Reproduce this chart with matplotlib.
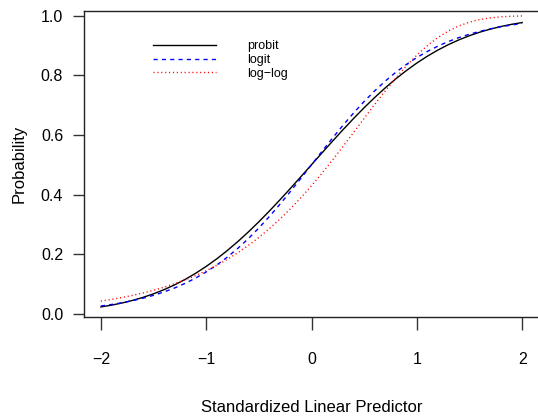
import matplotlib
matplotlib.use("Agg")
import matplotlib.pyplot as plt

plt.rcParams['font.family'] = ['Liberation Sans', 'DejaVu Sans']

# values, x from -2 to 2 in steps of 0.1
x = [-2.0, -1.9, -1.8, -1.7, -1.6, -1.5, -1.4, -1.3, -1.2, -1.1, -1.0,
     -0.9, -0.8, -0.7, -0.6, -0.5, -0.4, -0.3, -0.2, -0.1, 0.0,
     0.1, 0.2, 0.3, 0.4, 0.5, 0.6, 0.7, 0.8, 0.9, 1.0,
     1.1, 1.2, 1.3, 1.4, 1.5, 1.6, 1.7, 1.8, 1.9, 2.0]
probit = [0.0228, 0.0287, 0.0359, 0.0446, 0.0548, 0.0668, 0.0808, 0.0968, 0.1151, 0.1357, 0.1587,
          0.1841, 0.2119, 0.2420, 0.2743, 0.3085, 0.3446, 0.3821, 0.4207, 0.4602, 0.5000,
          0.5398, 0.5793, 0.6179, 0.6554, 0.6915, 0.7257, 0.7580, 0.7881, 0.8159, 0.8413,
          0.8643, 0.8849, 0.9032, 0.9192, 0.9332, 0.9452, 0.9554, 0.9641, 0.9713, 0.9772]
logit = [0.0259, 0.0309, 0.0368, 0.0438, 0.0521, 0.0618, 0.0732, 0.0864, 0.1019, 0.1197, 0.1402,
         0.1635, 0.1898, 0.2193, 0.2519, 0.2876, 0.3262, 0.3672, 0.4103, 0.4548, 0.5000,
         0.5452, 0.5897, 0.6328, 0.6738, 0.7124, 0.7481, 0.7807, 0.8102, 0.8365, 0.8598,
         0.8803, 0.8981, 0.9136, 0.9268, 0.9382, 0.9479, 0.9562, 0.9632, 0.9691, 0.9741]
loglog = [0.0423, 0.0479, 0.0543, 0.0615, 0.0696, 0.0787, 0.0890, 0.1006, 0.1135, 0.1280, 0.1442,
          0.1622, 0.1824, 0.2045, 0.2290, 0.2560, 0.2855, 0.3176, 0.3524, 0.3898, 0.4297,
          0.4718, 0.5160, 0.5617, 0.6085, 0.6557, 0.7024, 0.7479, 0.7912, 0.8315, 0.8679,
          0.8999, 0.9269, 0.9489, 0.9660, 0.9786, 0.9874, 0.9930, 0.9965, 0.9984, 0.9993]

xticks = [-2, -1, 0, 1, 2]
yticks = [0.0, 0.2, 0.4, 0.6, 0.8, 1.0]

W, H = 538, 417
fig = plt.figure(figsize=(W / 100, H / 100), dpi=100)
ax = fig.add_axes([84 / W, (H - 317) / H, (539 - 84) / W, (317 - 11) / H])

ax.plot(x, probit, color='black', lw=1.0, label='probit')
ax.plot(x, logit, color='blue', lw=1.0, dashes=(3, 3), label='logit')
ax.plot(x, loglog, color='red', lw=1.0, dashes=(0.8, 2.0), label='log\u2212log')

ax.set_xlim(-2.16, 2.16)
ax.set_ylim(-0.011, 1.016)
ax.set_xticks(xticks)
ax.set_xticklabels([str(t).replace('-', '\u2212') for t in xticks])
ax.set_yticks(yticks)
ax.set_yticklabels(['%.1f' % t for t in yticks])

for s in ax.spines.values():
    s.set_linewidth(1.0)
    s.set_color('#222222')

ax.tick_params(axis='x', length=9, width=1.0, color='#333333', labelsize=11.5, pad=16)
ax.tick_params(axis='y', length=8, width=1.0, color='#333333', labelsize=11.5, pad=7)

ax.set_xlabel('Standardized Linear Predictor', fontsize=12, labelpad=24)
ax.set_ylabel('Probability', fontsize=12, labelpad=10)

leg = ax.legend(loc='upper left', bbox_to_anchor=(153 / W, 1 - 40 / H),
                bbox_transform=fig.transFigure, frameon=False, fontsize=9,
                handlelength=5.0, handletextpad=2.5, labelspacing=0.15,
                borderpad=0, borderaxespad=0)

fig.savefig('out.png', dpi=100)
